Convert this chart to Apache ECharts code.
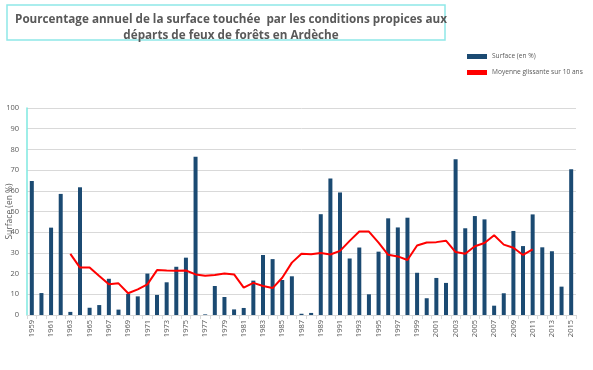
<!DOCTYPE html>
<html><head><meta charset="utf-8">
<script src="https://cdn.jsdelivr.net/npm/echarts@6/dist/echarts.min.js"></script>
<style>html,body{margin:0;padding:0;background:#fff}#c{width:593px;height:370px}</style>
</head><body><div id="c"></div>
<script>
const years = [];
for (let y = 1959; y <= 2015; y++) years.push(String(y));
const surface = [64.7,10.6,42.2,58.5,1.5,61.7,3.5,4.8,17.5,2.6,10.2,9.0,20.0,9.7,15.8,23.3,27.7,76.5,0.3,14.0,8.7,2.7,3.4,16.6,29.0,27.0,16.9,18.7,0.6,1.0,48.7,66.0,59.2,27.3,32.6,10.0,30.6,46.7,42.3,47.0,20.4,8.1,17.9,15.5,75.2,41.9,47.8,46.2,4.5,10.5,40.6,33.3,48.6,32.7,30.8,13.7,70.4];
const moyenne = [null,null,null,null,29.5,22.9,22.9,18.8,14.8,15.3,10.5,12.4,14.8,21.7,21.5,21.4,21.5,19.6,19.0,19.3,20.0,19.6,13.2,15.5,14.0,13.0,18.0,25.3,29.6,29.3,30.0,29.2,31.0,35.8,40.3,40.3,35.0,29.1,28.3,26.6,33.6,35.0,35.2,35.9,30.4,29.6,33.2,34.8,38.5,34.0,32.5,29.0,31.7,null,null,null,null];
const yTicks = [0,10,20,30,40,50,60,70,80,90,100];

const chart = echarts.init(document.getElementById('c'), null, {renderer:'canvas'});
chart.setOption({
  animation:false,
  backgroundColor:'#fff',
  textStyle:{fontFamily:'Open Sans'},
  graphic:[{type:'rect',shape:{x:7,y:5,width:438,height:35},style:{fill:'none',stroke:'#8fe8e8',lineWidth:1.5}}],
  title:{text:'Pourcentage annuel de la surface touchée  par les conditions propices aux\ndéparts de feux de forêts en Ardèche',left:226,top:7,textAlign:'center',
    textStyle:{fontFamily:'Open Sans',fontSize:11.7,fontWeight:'bold',color:'#595959',lineHeight:16}},
  legend:{orient:'vertical',left:462,top:48,itemGap:9,itemWidth:20,itemHeight:5,
    textStyle:{fontSize:6.6,color:'#595959',fontFamily:'Open Sans'},
    data:[{name:'Surface (en %)',icon:'rect'},{name:'Moyenne glissante sur 10 ans',icon:'rect',itemStyle:{color:'#ff0000'}}]},
  grid:{left:27,right:17,top:108,bottom:55,containLabel:false,outerBoundsMode:'none'},
  xAxis:{type:'category',data:years,
    axisLine:{lineStyle:{color:'#d9d9d9'}},
    axisTick:{show:true,alignWithLabel:false,interval:0,lineStyle:{color:'#d9d9d9'},length:4},
    axisLabel:{rotate:90,interval:1,fontSize:7.5,color:'#595959',margin:5}},
  yAxis:{type:'value',min:0,max:100,interval:10,
    name:'Surface (en %)',nameLocation:'middle',nameGap:13,nameRotate:90,nameMoveOverlap:false,
    nameTextStyle:{fontSize:8.5,color:'#595959'},
    axisLine:{show:true,lineStyle:{color:'#7ee8e0',width:1.5}},
    axisTick:{show:false},
    axisLabel:{fontSize:7.5,color:'#595959',margin:8},
    splitLine:{lineStyle:{color:'#d9d9d9'}}},
  series:[
    {name:'Surface (en %)',type:'bar',data:surface,barWidth:4,itemStyle:{color:'#1b4a72'}},
    {name:'Moyenne glissante sur 10 ans',type:'line',data:moyenne,symbol:'none',connectNulls:false,
      lineStyle:{color:'#ff0000',width:2},itemStyle:{color:'#ff0000'}}
  ]
});
</script></body></html>
